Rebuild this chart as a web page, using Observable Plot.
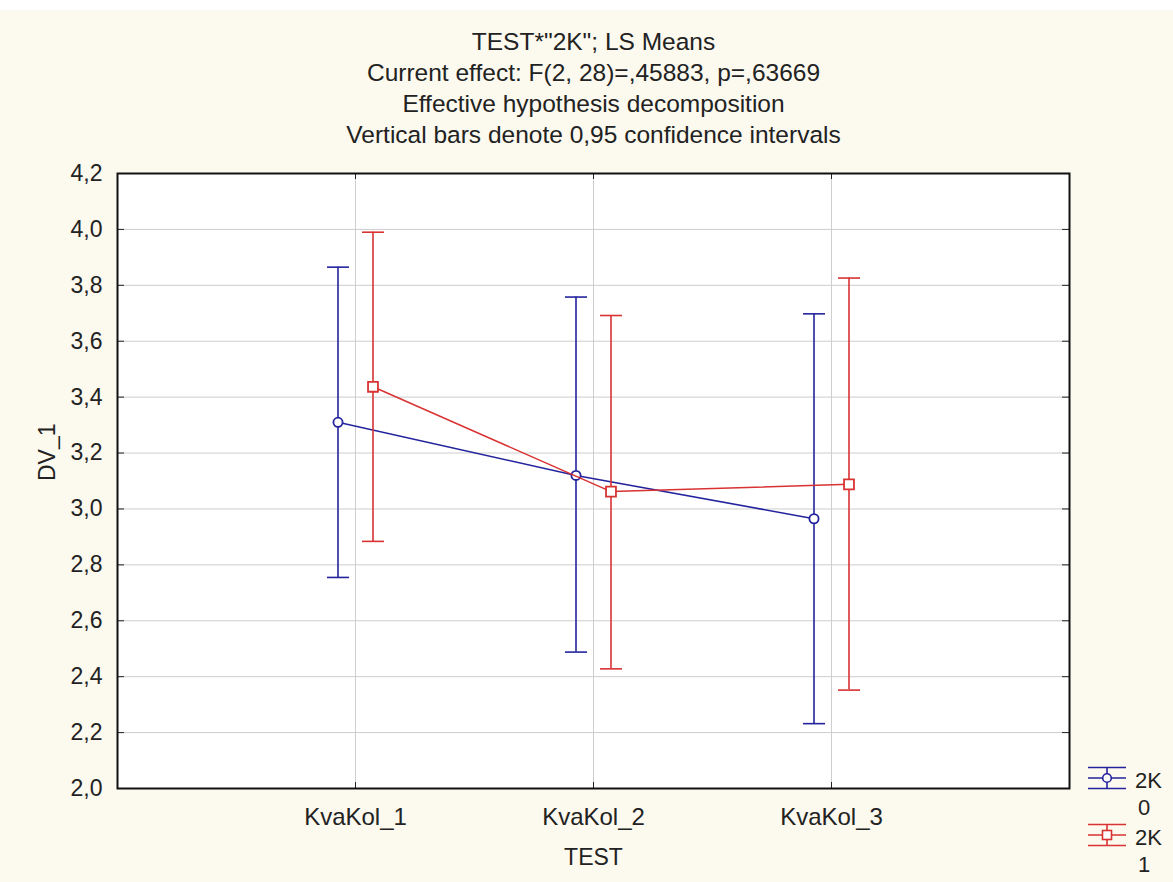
<!DOCTYPE html>
<html><head><meta charset="utf-8">
<script src="https://cdn.jsdelivr.net/npm/d3@7"></script>
<script src="https://cdn.jsdelivr.net/npm/@observablehq/plot@0.6"></script>
<style>
html,body{margin:0;padding:0;background:#fff;}
#wrap{position:relative;width:1173px;height:882px;overflow:hidden;}
#bg{position:absolute;left:0;top:10px;width:1173px;height:872px;background:#fcf9ee;}
#chart{position:absolute;left:0;top:0;}
#legend{position:absolute;left:0;top:0;}
</style>
</head><body>
<div id="wrap"><div id="bg"></div><div id="chart"></div><svg id="legend" width="1173" height="882"></svg></div>
<script>
// ---- data ----
const categories = ["KvaKol_1", "KvaKol_2", "KvaKol_3"];
const groupNames = ["0", "1"];
const mean0 = [3.310, 3.120, 2.965];
const lo0   = [2.755, 2.488, 2.232];
const hi0   = [3.865, 3.758, 3.698];
const mean1 = [3.437, 3.062, 3.088];
const lo1   = [2.884, 2.428, 2.352];
const hi1   = [3.990, 3.692, 3.826];
const yTicks = [2.0, 2.2, 2.4, 2.6, 2.8, 3.0, 3.2, 3.4, 3.6, 3.8, 4.0, 4.2];
const titleLines = [
  "TEST*\"2K\"; LS Means",
  "Current effect: F(2, 28)=,45883, p=,63669",
  "Effective hypothesis decomposition",
  "Vertical bars denote 0,95 confidence intervals"
];
const xLabel = "TEST";
const yLabel = "DV_1";
const legendPrefix = "2K";

// ---- layout / style ----
const W = 1173, H = 882;
const mL = 117, mR = 104, mT = 173, mB = 94;
const fw = W - mL - mR, fh = H - mT - mB;
const blue = "#23239e", red = "#d83232";
const off = 17.5;
const font = "'Liberation Sans', Arial, sans-serif";

const rows0 = categories.map((c, i) => ({cat: c, mean: mean0[i], lo: lo0[i], hi: hi0[i]}));
const rows1 = categories.map((c, i) => ({cat: c, mean: mean1[i], lo: lo1[i], hi: hi1[i]}));

const cap = {draw(ctx) { ctx.moveTo(-11, 0); ctx.lineTo(11, 0); }};
const fmt = d => d.toFixed(1).replace(".", ",");

function seriesMarks(rows, color, dx, symbol, r) {
  return [
    Plot.ruleX(rows, {x: "cat", y1: "lo", y2: "hi", dx, stroke: color, strokeWidth: 1.6}),
    Plot.dot(rows, {x: "cat", y: "hi", dx, symbol: cap, stroke: color, strokeWidth: 1.6}),
    Plot.dot(rows, {x: "cat", y: "lo", dx, symbol: cap, stroke: color, strokeWidth: 1.6}),
    Plot.line(rows, {x: "cat", y: "mean", dx, stroke: color, strokeWidth: 1.5}),
    Plot.dot(rows, {x: "cat", y: "mean", dx, symbol, r, stroke: color, fill: "white", strokeWidth: 1.8})
  ];
}

const titleDy = [-131, -100, -69, -38];

const chart = Plot.plot({
  width: W, height: H,
  marginLeft: mL, marginRight: mR, marginTop: mT, marginBottom: mB,
  style: {fontFamily: font, background: "transparent", color: "#222", overflow: "visible"},
  x: {type: "point", domain: categories, padding: 1},
  y: {domain: [2, 4.2]},
  marks: [
    Plot.frame({fill: "white", stroke: null}),
    Plot.gridY(yTicks, {stroke: "#cdcdcd", strokeOpacity: 1, strokeWidth: 1}),
    Plot.gridX(categories, {stroke: "#cdcdcd", strokeOpacity: 1, strokeWidth: 1}),
    Plot.tickY(yTicks, {y: d => d, stroke: "#222", insetRight: fw - 7}),
    Plot.tickY(yTicks, {y: d => d, stroke: "#222", insetLeft: fw - 7}),
    Plot.tickX(categories, {x: d => d, stroke: "#222", insetTop: fh - 6}),
    Plot.tickX(categories, {x: d => d, stroke: "#222", insetBottom: fh - 6}),
    ...seriesMarks(rows0, blue, -off, "circle", 4.6),
    ...seriesMarks(rows1, red, off, "square", 5.6),
    Plot.frame({stroke: "#111", strokeWidth: 2}),
    Plot.axisY({ticks: yTicks, tickSize: 0, tickPadding: 15, tickFormat: fmt, fontSize: 23, label: null}),
    Plot.axisX({ticks: categories, tickSize: 0, tickPadding: 19, fontSize: 24, label: null}),
    Plot.text([xLabel], {frameAnchor: "bottom", dy: 69, lineAnchor: "middle", fontSize: 23, fill: "#222"}),
    Plot.text([yLabel], {frameAnchor: "left", dx: -70, rotate: -90, lineAnchor: "middle", fontSize: 23, fill: "#222"}),
    ...titleLines.map((t, i) => Plot.text([t], {frameAnchor: "top", dy: titleDy[i], lineAnchor: "middle", fontSize: 24.5, fill: "#222"}))
  ]
});
document.getElementById("chart").appendChild(chart);

// ---- legend ----
const lg = d3.select("#legend").style("font-family", font);
const legendItems = [
  {name: groupNames[0], color: blue, symbol: "circle", cy: 778, ty: 788},
  {name: groupNames[1], color: red, symbol: "square", cy: 835, ty: 845}
];
legendItems.forEach(it => {
  const g = lg.append("g").attr("stroke", it.color).attr("stroke-width", 1.6).attr("fill", "none");
  const cx = 1107;
  [-10.5, 0, 10.5].forEach(o => g.append("line").attr("x1", cx - 19).attr("x2", cx + 19).attr("y1", it.cy + o).attr("y2", it.cy + o));
  g.append("line").attr("x1", cx).attr("x2", cx).attr("y1", it.cy - 10.5).attr("y2", it.cy + 10.5);
  if (it.symbol === "circle") g.append("circle").attr("cx", cx).attr("cy", it.cy).attr("r", 4.3).attr("fill", "white");
  else g.append("rect").attr("x", cx - 4.5).attr("y", it.cy - 4.5).attr("width", 9).attr("height", 9).attr("fill", "white");
  lg.append("text").attr("x", 1135).attr("y", it.ty).attr("font-size", 22).attr("fill", "#222").text(legendPrefix);
  lg.append("text").attr("x", 1138).attr("y", it.ty + 27).attr("font-size", 22).attr("fill", "#222").text(it.name);
});
</script>
</body></html>
